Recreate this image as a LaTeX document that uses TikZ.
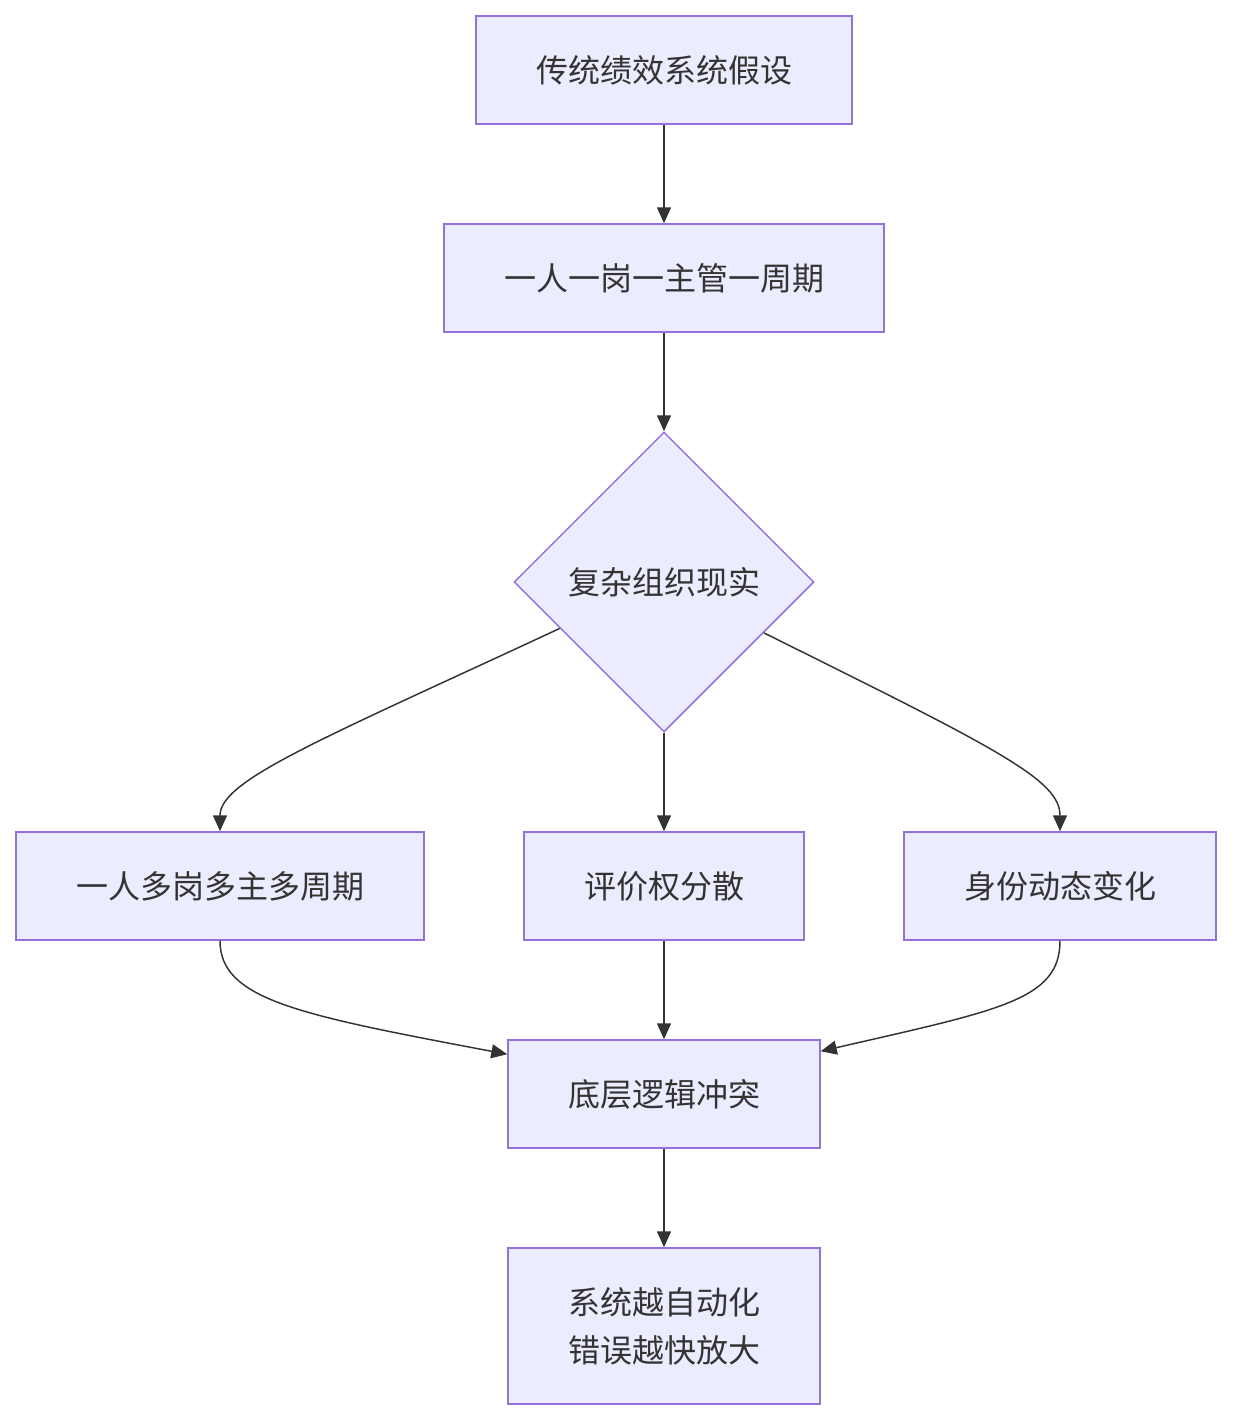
\documentclass[tikz,border=0pt]{standalone}
\usepackage{fontspec}
\setmainfont{Noto Sans CJK SC}
\usetikzlibrary{shapes.geometric,arrows.meta}
\definecolor{boxfill}{HTML}{ECECFF}
\definecolor{boxline}{HTML}{9370DB}
\definecolor{ink}{HTML}{333333}
\begin{document}
\begin{tikzpicture}[x=0.75pt,y=-0.75pt,
  box/.style={draw=boxline,fill=boxfill,line width=1.1pt,text=ink,font=\fontsize{24pt}{36pt}\selectfont,
    minimum height=81pt,inner sep=0pt,align=center},
  dia/.style={draw=boxline,fill=boxfill,line width=1.1pt,text=ink,font=\fontsize{24pt}{36pt}\selectfont,
    diamond,minimum width=225pt,minimum height=225pt,inner sep=0pt},
  conn/.style={draw=ink,line width=1.1pt,-{Triangle[length=12pt,width=10.5pt]}}]
\useasboundingbox (0,0) rectangle (1232,1420);
\node[box,minimum width=282pt] (A) at (664,70) {传统绩效系统假设};
\node[box,minimum width=330pt] (B) at (664,278) {一人一岗一主管一周期};
\node[dia] (C) at (664,582) {复杂组织现实};
\node[box,minimum width=306pt] (D) at (220,886) {一人多岗多主多周期};
\node[box,minimum width=210pt] (E) at (664,886) {评价权分散};
\node[box,minimum width=234pt] (F) at (1060,886) {身份动态变化};
\node[box,minimum width=234pt] (G) at (664,1094) {底层逻辑冲突};
\node[box,minimum width=234pt,minimum height=117pt] (H) at (664,1326) {系统越自动化\\错误越快放大};
\draw[conn] (A) -- (B);
\draw[conn] (B) -- (C);
\draw[conn] (C) -- (E);
\draw[conn] (E) -- (G);
\draw[conn] (G) -- (H);
\draw[conn] (C.204) .. controls (320,740) and (220,780) .. (D.north);
\draw[conn] (C.333) .. controls (1000,750) and (1060,780) .. (F.north);
\draw[conn] (D.south) .. controls (220,1000) and (300,1015) .. ([yshift=-11.25pt]G.north west);
\draw[conn] (F.south) .. controls (1060,1000) and (1000,1010) .. ([yshift=-9pt]G.north east);
\end{tikzpicture}
\end{document}
